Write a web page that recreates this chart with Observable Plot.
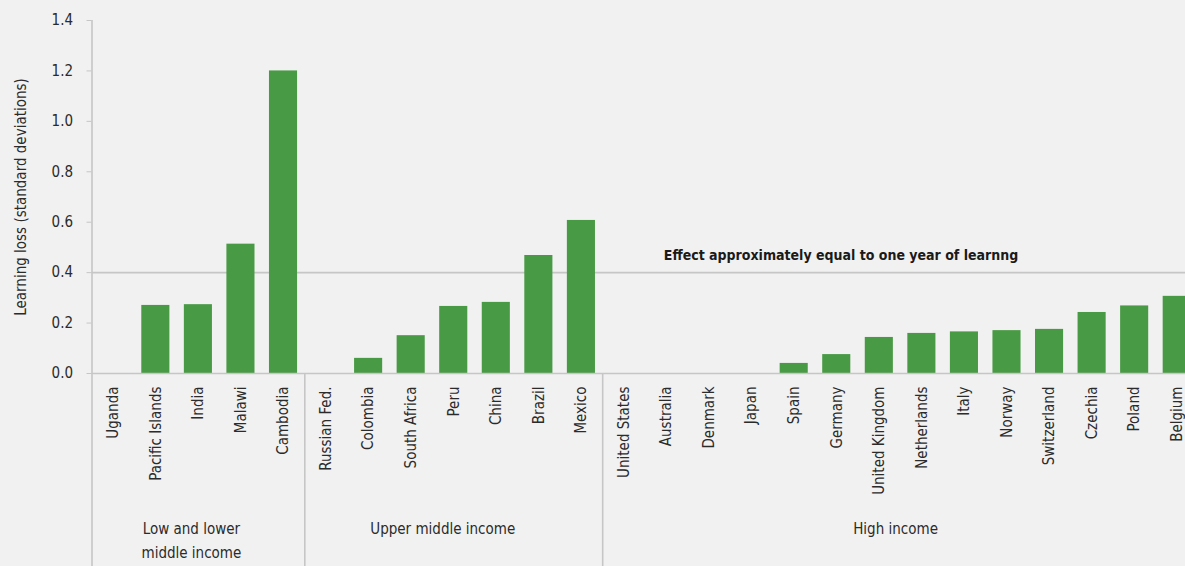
<!DOCTYPE html>
<html><head><meta charset="utf-8">
<script src="https://cdn.jsdelivr.net/npm/d3@7"></script>
<script src="https://cdn.jsdelivr.net/npm/@observablehq/plot@0.6"></script>
<style>
html,body{margin:0;padding:0;background:#f1f1f1;overflow:hidden;}
#chart svg{font-family:"Liberation Sans Narrow","DejaVu Sans Condensed","Roboto",sans-serif;background:#f1f1f1;}
</style></head><body><div id="chart"></div>
<script>
const countries = ["Uganda","Pacific Islands","India","Malawi","Cambodia",
  "Russian Fed.","Colombia","South Africa","Peru","China","Brazil","Mexico",
  "United States","Australia","Denmark","Japan","Spain","Germany","United Kingdom","Netherlands","Italy","Norway","Switzerland","Czechia","Poland","Belgium"];
const values = [0,0.27,0.273,0.513,1.2,
  0,0.06,0.15,0.266,0.282,0.468,0.607,
  0,0,0,0,0.04,0.075,0.143,0.159,0.165,0.17,0.175,0.242,0.268,0.306];
const groupNames = ["Low and lower\nmiddle income","Upper middle income","High income"];
const groupSizes = [5,7,14];
const yTicks = [0,0.2,0.4,0.6,0.8,1.0,1.2,1.4];
const refValue = 0.4;
const refLabel = "Effect approximately equal to one year of learnng";
const yLabel = "Learning loss (standard deviations)";

const data = countries.map((c,i)=>({country:c, value:values[i]}));

const W = 1185, H = 566, mL = 91.5, mR = -13, mT = 20, mB = 193;
const padInner = 0.34, padOuter = 0.17;
const step = (W - mL - mR) / countries.length;
const yBottom = -0.77;
const grey = "#c6c6c6", txt = "#2b2b2b", green = "#489a44";

let start = 0;
const groups = groupNames.map((name,gi)=>{
  const n = groupSizes[gi];
  const c = start + n/2 - 0.5;
  const g = {name, first: countries[start], anchor: countries[Math.floor(c)], frac: c - Math.floor(c)};
  start += n;
  return g;
});
const groupShift = [-7, -11, -5];

const marks = [
  Plot.ruleY([refValue], {stroke: grey, strokeWidth: 1.6}),
  Plot.barY(data, {x: "country", y: "value", fill: green}),
  Plot.ruleY([0], {stroke: grey, strokeWidth: 1.6}),
  Plot.axisY({ticks: yTicks, tickFormat: d3.format(".1f"), tickSize: 5, tickPadding: 14,
    stroke: grey, fill: txt, fontSize: 15, label: null}),
  Plot.axisX({tickRotate: -90, tickSize: 0, tickPadding: 13, fill: txt, fontSize: 15, label: null}),
  Plot.text([yLabel], {text: d=>d, frameAnchor: "left", textAnchor: "middle", lineAnchor: "middle",
    rotate: -90, dx: -71, fontSize: 15, fill: txt}),
  Plot.text([refLabel], {x: () => countries[13], y: () => refValue, text: d=>d, textAnchor: "start",
    dx: -2.7, dy: -17, fontSize: 14, fontWeight: "bold", fill: "#1a1a1a"}),
  Plot.ruleX([groups[0]], {x: "first", y1: () => yTicks[yTicks.length-1], y2: () => yBottom, dx: -step/2, stroke: grey, strokeWidth: 1.6}),
  Plot.ruleX(groups.slice(1), {x: "first", y1: () => 0, y2: () => yBottom, dx: -step/2, stroke: grey, strokeWidth: 1.6}),
  ...groups.map((g,i) => Plot.text([g], {x: "anchor", text: "name", frameAnchor: "bottom", lineAnchor: "top",
    dx: g.frac*step + groupShift[i], dy: 143, fontSize: 15, lineHeight: 1.6, fill: txt}))
];

const chart = Plot.plot({
  width: W, height: H, marginLeft: mL, marginRight: mR, marginTop: mT, marginBottom: mB,
  style: {background: "#f1f1f1", color: txt, fontSize: "15px"},
  x: {type: "band", domain: countries, paddingInner: padInner, paddingOuter: padOuter, round: false, axis: null},
  y: {domain: [0, 1.4], axis: null},
  marks
});
document.getElementById("chart").appendChild(chart);
</script></body></html>
